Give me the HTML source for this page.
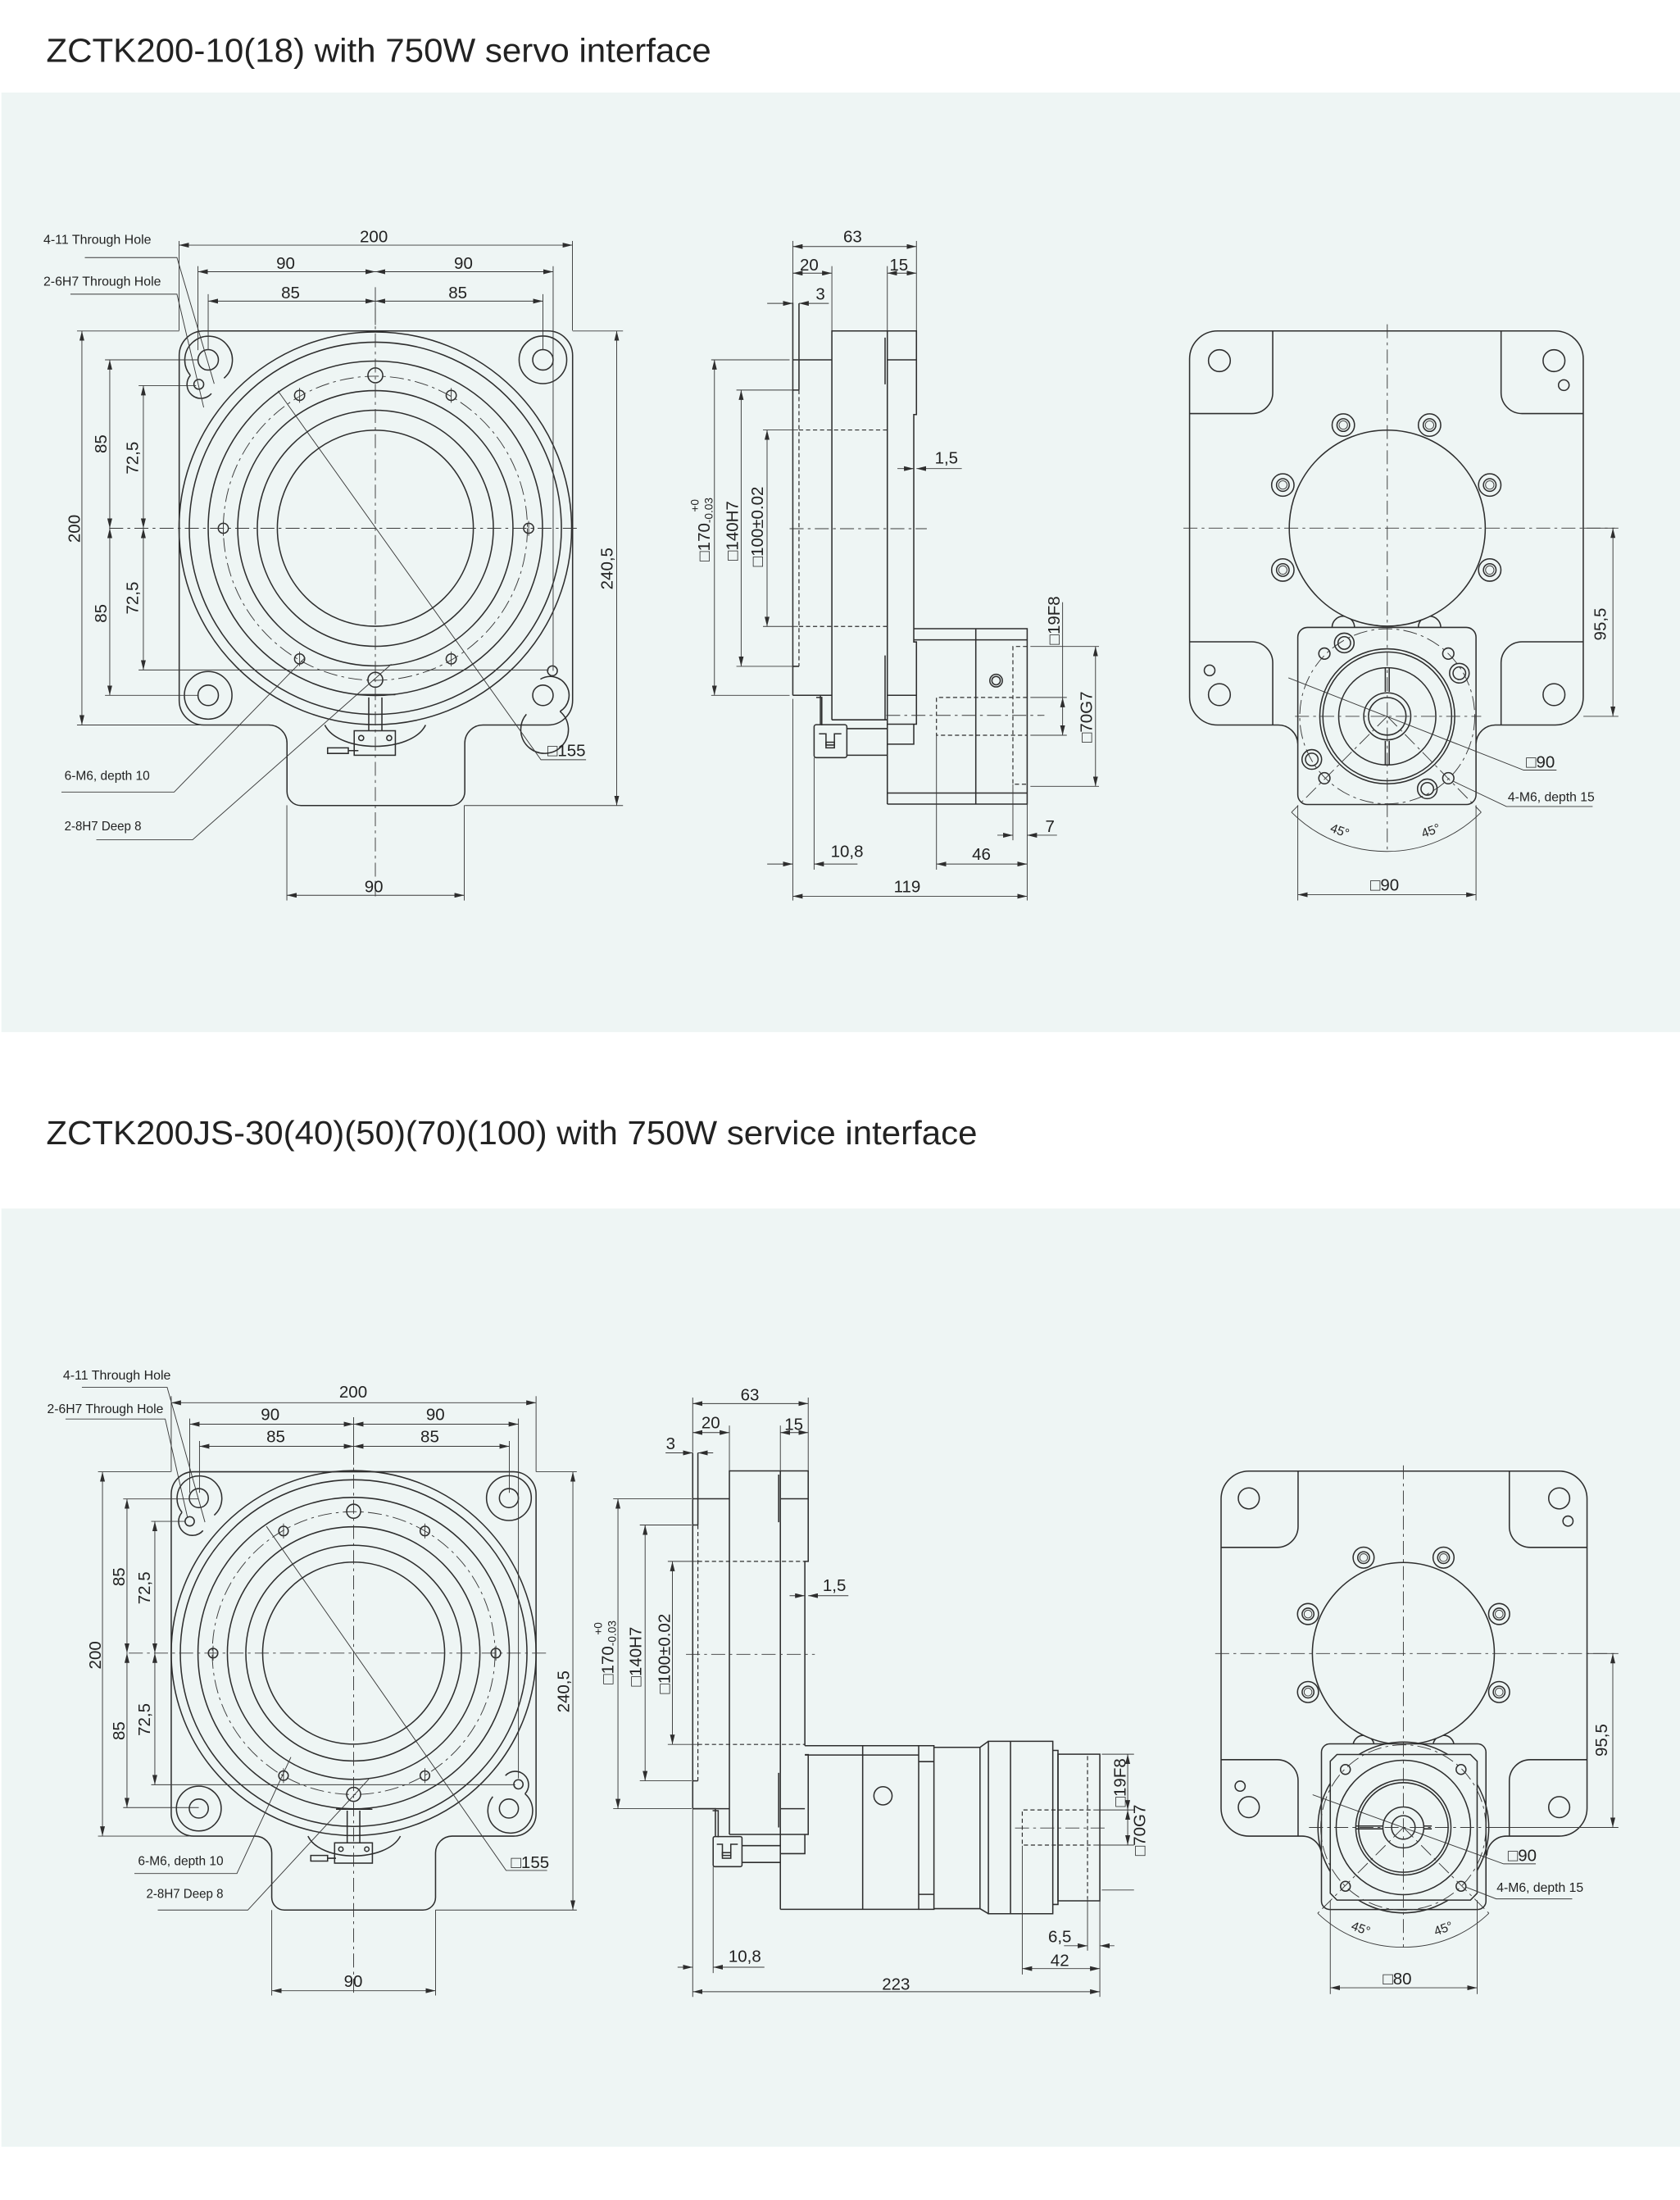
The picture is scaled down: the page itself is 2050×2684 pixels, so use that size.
<!DOCTYPE html>
<html><head><meta charset="utf-8"><style>
html,body{margin:0;padding:0;background:#fff;}
svg{display:block;}
.l{stroke:#2e2e2e;stroke-width:0.9;fill:none;}
.f{stroke:#2e2e2e;stroke-width:0.9;fill:#eef5f4;}
.t{stroke:#3a3a3a;stroke-width:0.55;fill:none;}
.dm{stroke:#3a3a3a;stroke-width:0.55;fill:none;marker-start:url(#a);marker-end:url(#a);}
.de{stroke:#3a3a3a;stroke-width:0.55;fill:none;marker-end:url(#a);}
.ds{stroke:#2e2e2e;stroke-width:0.7;fill:none;stroke-dasharray:3 2;}
.c{stroke:#3a3a3a;stroke-width:0.55;fill:none;stroke-dasharray:10 3 2 3;}
text{font-family:"Liberation Sans",sans-serif;fill:#222;}
.n{font-size:12px;}
.s{font-size:9px;}
</style></head><body>
<svg width="2050" height="2684" viewBox="0 0 1200 1571" xmlns="http://www.w3.org/2000/svg">
<defs>
<marker id="a" viewBox="0 0 8 4" refX="8" refY="2" markerWidth="7" markerHeight="3.5" markerUnits="userSpaceOnUse" orient="auto-start-reverse"><path d="M0,0 L8,2 L0,4 z" fill="#2e2e2e"/></marker>
</defs>
<rect width="1200" height="1571" fill="#fff"/>
<text x="33" y="44" font-size="24" textLength="475" lengthAdjust="spacingAndGlyphs">ZCTK200-10(18) with 750W servo interface</text>
<rect x="1" y="66" width="1199" height="671" fill="#eef5f4"/>
<text x="33" y="817" font-size="24" textLength="665" lengthAdjust="spacingAndGlyphs">ZCTK200JS-30(40)(50)(70)(100) with 750W service interface</text>
<rect x="1" y="863" width="1199" height="670" fill="#eef5f4"/>

<!-- ================= PANEL 1 LEFT VIEW ================= -->
<g>
<path class="l" d="M145.5,236.3 H391.5 A17.5,17.5 0 0 1 409,253.8 V500.2 A17.5,17.5 0 0 1 391.5,517.7 H345 A13,13 0 0 0 332,530.7 V565 A10,10 0 0 1 322,575.2 H215 A10,10 0 0 1 205,565 V530.7 A13,13 0 0 0 192,517.7 H145.5 A17.5,17.5 0 0 1 128,500.2 V253.8 A17.5,17.5 0 0 1 145.5,236.3 Z"/>
<path class="l" d="M232,517.7 C242,538 294,538 304,517.7"/>
<circle class="l" cx="268.1" cy="377.2" r="140.2"/>
<circle class="l" cx="268.1" cy="377.2" r="132.9"/>
<circle class="l" cx="268.1" cy="377.2" r="119.4"/>
<circle class="c" cx="268.1" cy="377.2" r="108.6"/>
<circle class="l" cx="268.1" cy="377.2" r="98.3"/>
<circle class="l" cx="268.1" cy="377.2" r="84.3"/>
<circle class="l" cx="268.1" cy="377.2" r="70"/>
<circle class="l" cx="268.1" cy="268" r="5.3"/><circle class="l" cx="268.1" cy="485.4" r="5.3"/>
<g class="l"><circle cx="214" cy="282.3" r="3.6"/><circle cx="322.3" cy="282.3" r="3.6"/><circle cx="159.5" cy="377.2" r="3.6"/><circle cx="377.6" cy="377.2" r="3.6"/><circle cx="214" cy="470.5" r="3.6"/><circle cx="322.3" cy="470.5" r="3.6"/></g>
<g class="t"><path d="M214,277 v10.6 M322.3,277 v10.6 M159.5,372 v10.6 M377.6,372 v10.6 M214,465.2 v10.6 M322.3,465.2 v10.6"/></g>
<g class="l"><circle cx="148.7" cy="256.9" r="7.3"/><circle cx="387.8" cy="256.9" r="7.3"/><circle cx="148.7" cy="496.5" r="7.3"/><circle cx="387.8" cy="496.5" r="7.3"/>
<circle cx="387.8" cy="256.9" r="17"/><circle cx="148.7" cy="496.5" r="17"/>
<path d="M136,268 A17,17 0 1 1 160,270 M136,268 A8,8 0 1 0 151,281"/>
<path d="M400,508 A17,17 0 1 1 376,510 M400,508 A8,8 0 0 0 386,485"/>
<circle cx="142" cy="274.4" r="3.5"/><circle cx="394.6" cy="479" r="3.5"/></g>
<line class="c" x1="268.1" y1="220" x2="268.1" y2="640"/>
<line class="c" x1="78" y1="377.2" x2="415" y2="377.2"/>
<line class="t" x1="268.1" y1="205" x2="268.1" y2="232"/>
<g class="l"><path d="M254.6,496 H282.4 M263.4,498 V521.8 M272.8,498 V521.8"/><rect x="253" y="521.8" width="29.4" height="17.5"/><circle cx="258" cy="527" r="1.8"/><circle cx="278" cy="527" r="1.8"/><path d="M234,534 H248.8 V538 H234 Z M248.8,536 H256"/></g>
<g class="t"><line x1="127.9" y1="172" x2="127.9" y2="236"/><line x1="408.9" y1="172" x2="408.9" y2="236"/>
<line x1="141.4" y1="190" x2="141.4" y2="250"/><line x1="395.1" y1="190" x2="395.1" y2="479"/>
<line x1="148.7" y1="210" x2="148.7" y2="250"/><line x1="387.8" y1="210" x2="387.8" y2="250"/>
<line x1="55" y1="236.3" x2="128" y2="236.3"/><line x1="55" y1="517.7" x2="192" y2="517.7"/>
<line x1="75" y1="256.9" x2="142" y2="256.9"/><line x1="75" y1="496.5" x2="142" y2="496.5"/>
<line x1="99" y1="275.3" x2="140" y2="275.3"/><line x1="99" y1="478.4" x2="392" y2="478.4"/>
<line x1="409" y1="236.3" x2="445" y2="236.3"/><line x1="332" y1="575.2" x2="445" y2="575.2"/>
<line x1="204.9" y1="575" x2="204.9" y2="643"/><line x1="331.6" y1="575" x2="331.6" y2="643"/></g>
<line class="dm" x1="127.9" y1="175" x2="408.9" y2="175"/>
<line class="dm" x1="141.4" y1="194" x2="268.1" y2="194"/><line class="dm" x1="268.1" y1="194" x2="395.1" y2="194"/>
<line class="dm" x1="148.7" y1="215" x2="268.1" y2="215"/><line class="dm" x1="268.1" y1="215" x2="387.8" y2="215"/>
<line class="dm" x1="58.5" y1="236.3" x2="58.5" y2="517.7"/>
<line class="dm" x1="78.4" y1="256.9" x2="78.4" y2="377.2"/><line class="dm" x1="78.4" y1="377.2" x2="78.4" y2="496.5"/>
<line class="dm" x1="102.4" y1="275.3" x2="102.4" y2="377.2"/><line class="dm" x1="102.4" y1="377.2" x2="102.4" y2="478.4"/>
<line class="dm" x1="440.5" y1="236.3" x2="440.5" y2="575.2"/>
<line class="dm" x1="204.9" y1="639.3" x2="331.6" y2="639.3"/>
<text class="n" x="267" y="173" text-anchor="middle">200</text>
<text class="n" x="204" y="192" text-anchor="middle">90</text><text class="n" x="331" y="192" text-anchor="middle">90</text>
<text class="n" x="207.5" y="213" text-anchor="middle">85</text><text class="n" x="327" y="213" text-anchor="middle">85</text>
<text class="n" x="267" y="637" text-anchor="middle">90</text>
<text class="n" transform="translate(57,377.5) rotate(-90)" text-anchor="middle">200</text>
<text class="n" transform="translate(76,317) rotate(-90)" text-anchor="middle">85</text>
<text class="n" transform="translate(76,438) rotate(-90)" text-anchor="middle">85</text>
<text class="n" transform="translate(98.5,327) rotate(-90)" text-anchor="middle">72,5</text>
<text class="n" transform="translate(98.5,427) rotate(-90)" text-anchor="middle">72,5</text>
<text class="n" transform="translate(437.5,406) rotate(-90)" text-anchor="middle">240,5</text>
<g class="t"><polyline points="60.6,183.9 126.4,183.9 153,274"/><polyline points="50.3,210 126.4,210 145.5,290.9"/>
<polyline points="43.9,565.6 124.4,565.6 218,469.5"/><polyline points="68.8,599.6 137.6,599.6 279.5,474.3"/>
<polyline points="198.5,279 386.4,542.5 418.6,542.5"/></g>
<text class="s" x="31" y="174" textLength="77" lengthAdjust="spacingAndGlyphs">4-11 Through Hole</text>
<text class="s" x="31" y="204" textLength="84" lengthAdjust="spacingAndGlyphs">2-6H7 Through Hole</text>
<text class="s" x="46" y="557" textLength="61" lengthAdjust="spacingAndGlyphs">6-M6, depth 10</text>
<text class="s" x="46" y="593" textLength="55" lengthAdjust="spacingAndGlyphs">2-8H7 Deep 8</text>
<text class="n" x="391" y="540">□155</text>
</g>

<!-- ================= PANEL 1 SIDE VIEW ================= -->
<g>
<line class="l" x1="566.3" y1="216" x2="566.3" y2="496.5"/>
<line class="l" x1="570.7" y1="216.6" x2="570.7" y2="278.5"/>
<line class="ds" x1="570.7" y1="278.5" x2="570.7" y2="475.8"/>
<path class="l" d="M566.3,278.5 H570.7 M566.3,475.8 H570.7 M566.3,256.9 H594.2 M566.3,496.5 H594.2"/>
<path class="l" d="M594.2,514 V236.3 H654.6 V296 H652.7 V458.4 H654.6 V517.1 H633.8 M633.8,236.3 V574.2 M633.8,256.9 H654.6 M633.8,496.5 H654.6 M633.8,531.4 H652.7 V517.1"/>
<path class="l" d="M632.2,241 V274.4 M632.2,468 V514"/>
<line class="ds" x1="570.7" y1="307" x2="633.8" y2="307"/><line class="ds" x1="570.7" y1="447.3" x2="633.8" y2="447.3"/>
<line class="c" x1="564" y1="377.5" x2="662" y2="377.5"/>
<path class="l" d="M594.2,514 H633.8 M604.9,520.3 H633.8 M604.9,539.3 H633.8"/>
<path class="l" d="M566.3,496.5 H586 V517.5 M583,498 H587 V518"/>
<g class="l"><rect x="581.5" y="517.5" width="23.4" height="23.5" rx="1.5"/><path d="M585,524 H590 V532 H596 V524 H601"/><rect x="590" y="530" width="6" height="4"/></g>
<path class="l" d="M652.7,448.9 H733.7 V574.2 H633.8 M652.7,456.9 H733.7 M697,448.9 V574.2 M633.8,566.3 H733.7"/>
<path class="ds" d="M733.7,461.6 H723.5 V560 H733.7 M733.7,498 H668.9 V525 H733.7"/>
<line class="c" x1="633" y1="510.8" x2="746" y2="510.8"/>
<circle class="l" cx="711.5" cy="486" r="4.5"/><circle class="l" cx="711.5" cy="486" r="3"/>
<g class="t"><line x1="566.3" y1="172" x2="566.3" y2="216"/><line x1="594.2" y1="190" x2="594.2" y2="236"/><line x1="633.8" y1="190" x2="633.8" y2="236"/><line x1="654.6" y1="172" x2="654.6" y2="236"/>
<line x1="508" y1="256.9" x2="564" y2="256.9"/><line x1="508" y1="496.5" x2="564" y2="496.5"/>
<line x1="526" y1="278.5" x2="566" y2="278.5"/><line x1="526" y1="475.8" x2="566" y2="475.8"/>
<line x1="545" y1="307" x2="570" y2="307"/><line x1="545" y1="447.3" x2="570" y2="447.3"/>
<line x1="566.3" y1="499" x2="566.3" y2="643"/><line x1="581.5" y1="541" x2="581.5" y2="621"/>
<line x1="668.9" y1="525" x2="668.9" y2="621"/><line x1="723.5" y1="560" x2="723.5" y2="600"/><line x1="733.7" y1="574" x2="733.7" y2="643"/>
<line x1="736" y1="498" x2="762" y2="498"/><line x1="736" y1="525" x2="762" y2="525"/>
<line x1="736" y1="461.6" x2="785" y2="461.6"/><line x1="736" y1="561.5" x2="785" y2="561.5"/>
<line x1="759" y1="430" x2="759" y2="498"/></g>
<line class="dm" x1="566.3" y1="176" x2="654.6" y2="176"/>
<line class="dm" x1="566.3" y1="195" x2="594.2" y2="195"/>
<line class="dm" x1="633.8" y1="195" x2="654.6" y2="195"/>
<line class="de" x1="548" y1="216.6" x2="566.3" y2="216.6"/><line class="de" x1="592" y1="216.6" x2="570.7" y2="216.6"/>
<line class="de" x1="641" y1="334.6" x2="652.7" y2="334.6"/><line class="de" x1="687" y1="334.6" x2="654.6" y2="334.6"/>
<line class="dm" x1="510.3" y1="256.9" x2="510.3" y2="496.5"/>
<line class="dm" x1="529.4" y1="278.5" x2="529.4" y2="475.8"/>
<line class="dm" x1="547.9" y1="307" x2="547.9" y2="447.3"/>
<line class="dm" x1="759" y1="498" x2="759" y2="525"/>
<line class="dm" x1="782.5" y1="461.6" x2="782.5" y2="561.5"/>
<line class="de" x1="712.4" y1="596.4" x2="723.5" y2="596.4"/><line class="de" x1="755" y1="596.4" x2="733.7" y2="596.4"/>
<line class="de" x1="548" y1="617" x2="566.3" y2="617"/><line class="de" x1="612.5" y1="617" x2="581.5" y2="617"/>
<line class="dm" x1="668.9" y1="617" x2="733.7" y2="617"/>
<line class="dm" x1="566.3" y1="640" x2="733.7" y2="640"/>
<text class="n" x="609" y="173" text-anchor="middle">63</text>
<text class="n" x="578" y="193" text-anchor="middle">20</text>
<text class="n" x="642" y="193" text-anchor="middle">15</text>
<text class="n" x="586" y="214" text-anchor="middle">3</text>
<text class="n" x="676" y="331" text-anchor="middle">1,5</text>
<text class="n" x="750" y="594" text-anchor="middle">7</text>
<text class="n" x="701" y="614" text-anchor="middle">46</text>
<text class="n" x="605" y="612" text-anchor="middle">10,8</text>
<text class="n" x="648" y="637" text-anchor="middle">119</text>
<text class="n" transform="translate(507,378) rotate(-90)" text-anchor="middle">□170<tspan font-size="8" dy="2">-0.03</tspan></text>
<text font-size="8" transform="translate(499,361) rotate(-90)" text-anchor="middle">+0</text>
<text class="n" transform="translate(527,379) rotate(-90)" text-anchor="middle">□140H7</text>
<text class="n" transform="translate(545,376) rotate(-90)" text-anchor="middle">□100±0.02</text>
<text class="n" transform="translate(757,443) rotate(-90)" text-anchor="middle">□19F8</text>
<text class="n" transform="translate(780,512) rotate(-90)" text-anchor="middle">□70G7</text>
</g>

<!-- ================= PANEL 1 RIGHT VIEW ================= -->
<g>
<path class="l" d="M869.7,236.3 H1110.9 A20,20 0 0 1 1130.9,256.3 V497.7 A20,20 0 0 1 1110.9,517.7 H1068 A14,14 0 0 0 1054.3,531 M927,531 A14,14 0 0 0 913,517.7 H869.7 A20,20 0 0 1 849.7,497.7 V256.3 A20,20 0 0 1 869.7,236.3"/>
<path class="l" d="M909.1,236.3 V280 A15,15 0 0 1 894,295.3 H849.7 M1072.2,236.3 V280 A15,15 0 0 0 1087.2,295.3 H1130.9 M849.7,458.3 H894 A15,15 0 0 1 909.1,473.3 V517.7 M1130.9,458.3 H1087.2 A15,15 0 0 0 1072.2,473.3 V517.7"/>
<g class="l"><circle cx="871" cy="257.5" r="7.8"/><circle cx="1110" cy="257.5" r="7.8"/><circle cx="1117" cy="275" r="3.8"/><circle cx="871" cy="496" r="7.8"/><circle cx="864" cy="478.7" r="3.8"/><circle cx="1110" cy="496" r="7.8"/></g>
<g class="f"><circle cx="959.5" cy="303.5" r="8"/><circle cx="1021.1" cy="303.5" r="8"/><circle cx="916.3" cy="346.3" r="8"/><circle cx="1064.1" cy="346.3" r="8"/><circle cx="916.3" cy="407" r="8"/><circle cx="1064.1" cy="407" r="8"/><circle cx="959.5" cy="448" r="8"/><circle cx="1021.1" cy="448" r="8"/></g>
<circle class="f" cx="990.9" cy="377.1" r="70"/>
<g class="l"><circle cx="959.5" cy="303.5" r="4.5"/><circle cx="1021.1" cy="303.5" r="4.5"/><circle cx="916.3" cy="346.3" r="4.5"/><circle cx="1064.1" cy="346.3" r="4.5"/><circle cx="916.3" cy="407" r="4.5"/><circle cx="1064.1" cy="407" r="4.5"/></g>
<g class="t"><circle cx="959.5" cy="303.5" r="3"/><circle cx="1021.1" cy="303.5" r="3"/><circle cx="916.3" cy="346.3" r="3"/><circle cx="1064.1" cy="346.3" r="3"/><circle cx="916.3" cy="407" r="3"/><circle cx="1064.1" cy="407" r="3"/></g>
<rect class="f" x="927" y="448" width="127.3" height="126.5" rx="7"/>
<circle class="c" cx="990.9" cy="511.5" r="62.5"/>
<circle class="l" cx="990.9" cy="511.5" r="48.2"/><circle class="l" cx="990.9" cy="511.5" r="46"/>
<circle class="l" cx="990.9" cy="511.5" r="34.7"/><circle class="l" cx="990.9" cy="511.5" r="16.8"/><circle class="l" cx="990.9" cy="511.5" r="13.4"/>
<path class="l" d="M989.5,477 V494 M992.3,477 V494 M989.5,529 V546 M992.3,529 V546"/>
<g class="l"><circle cx="946" cy="466.7" r="4"/><circle cx="1034.5" cy="466.7" r="4"/><circle cx="946" cy="555.7" r="4"/><circle cx="1034.5" cy="555.7" r="4"/>
<circle cx="960.2" cy="459.1" r="7"/><circle cx="960.2" cy="459.1" r="4.5"/><circle cx="1042.4" cy="480.7" r="7"/><circle cx="1042.4" cy="480.7" r="4.5"/><circle cx="937" cy="542.3" r="7"/><circle cx="937" cy="542.3" r="4.5"/><circle cx="1019.5" cy="563.3" r="7"/><circle cx="1019.5" cy="563.3" r="4.5"/></g>
<line class="c" x1="990.9" y1="231.5" x2="990.9" y2="608"/>
<line class="c" x1="845.3" y1="377.1" x2="1153.3" y2="377.1"/>
<line class="c" x1="925" y1="511.5" x2="1058" y2="511.5"/>
<path class="c" d="M990.9,511.5 L922.5,580 M990.9,511.5 L1058,580"/>
<path class="t" d="M922.5,580 A96,96 0 0 0 990.9,608 A96,96 0 0 0 1058,580"/>
<g class="t"><polyline points="920.3,484 1088.3,549.9 1111.8,549.9"/><polyline points="1037.9,557.8 1076,575.9 1137.6,575.9"/>
<line x1="1131" y1="377.1" x2="1156" y2="377.1"/><line x1="1131" y1="511.5" x2="1156" y2="511.5"/>
<line x1="927" y1="575" x2="927" y2="643"/><line x1="1054.3" y1="575" x2="1054.3" y2="643"/></g>
<line class="dm" x1="1152.1" y1="377.1" x2="1152.1" y2="511.5"/>
<line class="dm" x1="927" y1="638.9" x2="1054.3" y2="638.9"/>
<text class="n" transform="translate(1147,445.7) rotate(-90)" text-anchor="middle">95,5</text>
<text class="n" x="1090" y="548">□90</text>
<text class="s" x="1077" y="572" textLength="62" lengthAdjust="spacingAndGlyphs">4-M6, depth 15</text>
<text class="s" transform="translate(956,596) rotate(20)" text-anchor="middle">45°</text>
<text class="s" transform="translate(1023,596) rotate(-20)" text-anchor="middle">45°</text>
<text class="n" x="989" y="636" text-anchor="middle">□90</text>
</g>

<!-- ================= PANEL 2 LEFT VIEW ================= -->
<g>
<path class="l" d="M138.3,1051 H366.9 A16,16 0 0 1 382.9,1067 V1295.2 A16,16 0 0 1 366.9,1311.2 H323 A12,12 0 0 0 311.1,1323.2 V1355 A9,9 0 0 1 302.1,1364 H203.1 A9,9 0 0 1 194.1,1355 V1323.2 A12,12 0 0 0 182.1,1311.2 H138.3 A16,16 0 0 1 122.3,1295.2 V1067 A16,16 0 0 1 138.3,1051 Z"/>
<path class="l" d="M220,1311.2 C229,1330 276,1330 286,1311.2"/>
<circle class="l" cx="252.6" cy="1180.5" r="130.3"/>
<circle class="l" cx="252.6" cy="1180.5" r="123.8"/>
<circle class="l" cx="252.6" cy="1180.5" r="111.2"/>
<circle class="c" cx="252.6" cy="1180.5" r="101"/>
<circle class="l" cx="252.6" cy="1180.5" r="90.2"/>
<circle class="l" cx="252.6" cy="1180.5" r="77"/>
<circle class="l" cx="252.6" cy="1180.5" r="65"/>
<circle class="l" cx="252.6" cy="1079.2" r="5"/><circle class="l" cx="252.6" cy="1281.4" r="5"/>
<g class="l"><circle cx="202.5" cy="1093.3" r="3.4"/><circle cx="303.5" cy="1093.3" r="3.4"/><circle cx="152.2" cy="1180.5" r="3.4"/><circle cx="354.2" cy="1180.5" r="3.4"/><circle cx="202.5" cy="1268" r="3.4"/><circle cx="303.5" cy="1268" r="3.4"/></g>
<g class="t"><path d="M202.5,1088 v10.6 M303.5,1088 v10.6 M152.2,1175.2 v10.6 M354.2,1175.2 v10.6 M202.5,1262.7 v10.6 M303.5,1262.7 v10.6"/></g>
<g class="l"><circle cx="142" cy="1069.8" r="6.8"/><circle cx="363.5" cy="1069.8" r="6.8"/><circle cx="142" cy="1291.5" r="6.8"/><circle cx="363.5" cy="1291.5" r="6.8"/>
<circle cx="363.5" cy="1069.8" r="16"/><circle cx="142" cy="1291.5" r="16"/>
<path d="M130,1080 A16,16 0 1 1 153,1082 M130,1080 A7.5,7.5 0 1 0 145,1093"/>
<path d="M375,1281 A16,16 0 1 1 352,1283 M375,1281 A7.5,7.5 0 0 0 361,1268"/>
<circle cx="135.5" cy="1086.4" r="3.3"/><circle cx="370.3" cy="1274.2" r="3.3"/></g>
<line class="c" x1="252.6" y1="1035" x2="252.6" y2="1425"/>
<line class="c" x1="92" y1="1180.5" x2="390" y2="1180.5"/>
<line class="t" x1="252.6" y1="1012" x2="252.6" y2="1046"/>
<g class="l"><path d="M240,1292 H266 M248,1293 V1316 M257,1293 V1316"/><rect x="239" y="1316" width="27" height="14.5"/><circle cx="243.5" cy="1320.5" r="1.6"/><circle cx="262" cy="1320.5" r="1.6"/><path d="M222,1325 H234 V1329 H222 Z M234,1327 H240"/></g>
<g class="t"><line x1="122.3" y1="997" x2="122.3" y2="1051"/><line x1="382.9" y1="997" x2="382.9" y2="1051"/>
<line x1="135.5" y1="1013" x2="135.5" y2="1066"/><line x1="370.3" y1="1013" x2="370.3" y2="1270"/>
<line x1="142.5" y1="1029" x2="142.5" y2="1066"/><line x1="363.8" y1="1029" x2="363.8" y2="1066"/>
<line x1="70" y1="1051" x2="122" y2="1051"/><line x1="70" y1="1311.2" x2="182" y2="1311.2"/>
<line x1="88" y1="1070.4" x2="142" y2="1070.4"/><line x1="88" y1="1290.8" x2="142" y2="1290.8"/>
<line x1="108" y1="1086.4" x2="132" y2="1086.4"/><line x1="108" y1="1274.5" x2="368" y2="1274.5"/>
<line x1="383" y1="1051" x2="412" y2="1051"/><line x1="311" y1="1364" x2="412" y2="1364"/>
<line x1="194.1" y1="1364" x2="194.1" y2="1425"/><line x1="311.1" y1="1364" x2="311.1" y2="1425"/></g>
<line class="dm" x1="122.3" y1="1001.7" x2="382.9" y2="1001.7"/>
<line class="dm" x1="135.5" y1="1017" x2="252.6" y2="1017"/><line class="dm" x1="252.6" y1="1017" x2="370.3" y2="1017"/>
<line class="dm" x1="142.5" y1="1032.8" x2="252.6" y2="1032.8"/><line class="dm" x1="252.6" y1="1032.8" x2="363.8" y2="1032.8"/>
<line class="dm" x1="73.2" y1="1051" x2="73.2" y2="1311.2"/>
<line class="dm" x1="90.7" y1="1070.4" x2="90.7" y2="1180.5"/><line class="dm" x1="90.7" y1="1180.5" x2="90.7" y2="1290.8"/>
<line class="dm" x1="110.6" y1="1086.4" x2="110.6" y2="1180.5"/><line class="dm" x1="110.6" y1="1180.5" x2="110.6" y2="1274.5"/>
<line class="dm" x1="409.2" y1="1051" x2="409.2" y2="1364"/>
<line class="dm" x1="194.1" y1="1421.6" x2="311.1" y2="1421.6"/>
<text class="n" x="252.3" y="998" text-anchor="middle">200</text>
<text class="n" x="193" y="1014" text-anchor="middle">90</text><text class="n" x="311" y="1014" text-anchor="middle">90</text>
<text class="n" x="197" y="1030" text-anchor="middle">85</text><text class="n" x="307" y="1030" text-anchor="middle">85</text>
<text class="n" x="252.3" y="1419" text-anchor="middle">90</text>
<text class="n" transform="translate(72,1182) rotate(-90)" text-anchor="middle">200</text>
<text class="n" transform="translate(89,1126) rotate(-90)" text-anchor="middle">85</text>
<text class="n" transform="translate(89,1236) rotate(-90)" text-anchor="middle">85</text>
<text class="n" transform="translate(107,1134) rotate(-90)" text-anchor="middle">72,5</text>
<text class="n" transform="translate(107,1228) rotate(-90)" text-anchor="middle">72,5</text>
<text class="n" transform="translate(406.5,1208) rotate(-90)" text-anchor="middle">240,5</text>
<g class="t"><polyline points="58.5,990.7 119.4,990.7 146.4,1087"/><polyline points="46.8,1013.3 118,1013.3 134,1083.9"/>
<polyline points="96,1337.9 169.2,1337.9 207.8,1254.8"/><polyline points="112.7,1364 177,1364 263.4,1270.5"/>
<polyline points="190.3,1090 361.5,1335.7 390.8,1335.7"/></g>
<text class="s" x="45" y="985" textLength="77" lengthAdjust="spacingAndGlyphs">4-11 Through Hole</text>
<text class="s" x="33.7" y="1009" textLength="83" lengthAdjust="spacingAndGlyphs">2-6H7 Through Hole</text>
<text class="s" x="98.6" y="1332" textLength="61" lengthAdjust="spacingAndGlyphs">6-M6, depth 10</text>
<text class="s" x="104.5" y="1355.5" textLength="55" lengthAdjust="spacingAndGlyphs">2-8H7 Deep 8</text>
<text class="n" x="365" y="1334">□155</text>
</g>

<!-- ================= PANEL 2 SIDE VIEW ================= -->
<g>
<line class="l" x1="494.8" y1="1037.5" x2="494.8" y2="1291.6"/>
<line class="l" x1="498.5" y1="1037.5" x2="498.5" y2="1089"/>
<line class="ds" x1="498.5" y1="1089" x2="498.5" y2="1271.7"/>
<path class="l" d="M494.8,1089 H498.5 M494.8,1271.7 H498.5 M494.8,1070.3 H521 M494.8,1291.6 H521"/>
<path class="l" d="M521,1310 V1050.4 H577.3 V1115 H574.9 V1246.6 M574.9,1253 H577.3 V1310 H557.4 M557.4,1050.4 V1363.5 M557.4,1070.3 H577.3 M557.4,1291.6 H574.9 M557.4,1323.7 H574.9 V1310"/>
<path class="l" d="M556.2,1053 V1087 M556.2,1266 V1305"/>
<line class="ds" x1="498.5" y1="1115" x2="574.9" y2="1115"/><line class="ds" x1="498.5" y1="1245.7" x2="574.9" y2="1245.7"/>
<line class="c" x1="490" y1="1181.4" x2="582" y2="1181.4"/>
<path class="l" d="M521,1310 H557.4 M530,1318 H557.4 M530,1330 H557.4 M494.8,1291.6 H511 V1311.5 M509,1293 H513 V1312"/>
<g class="l"><rect x="509.4" y="1311.5" width="20.6" height="21.5" rx="1.2"/><path d="M512,1317 H516 V1325 H522 V1317 H527"/><rect x="516" y="1323" width="6" height="4"/></g>
<path class="l" d="M574.9,1246.6 H656.2 V1363.5 H557.4 M574.9,1253.3 H656.2 M616.2,1246.6 V1363.5"/>
<circle class="l" cx="630.7" cy="1282.4" r="6.5"/>
<path class="l" d="M656.2,1246.6 H667.1 V1363.5 H656.2 M656.2,1258 H667.1 M656.2,1352.8 H667.1"/>
<path class="l" d="M667.1,1247.8 H700 V1363 H667.1 M700,1247.8 L706,1243.5 M700,1363 L706,1366.6"/>
<path class="l" d="M706,1243.5 H752 V1366.6 H706 Z M721.8,1243.5 V1366.6"/>
<path class="l" d="M752,1250 H755.7 V1360 H752"/>
<path class="l" d="M755.7,1252.7 H785.6 V1357.4 H755.7 Z"/>
<line class="ds" x1="776.8" y1="1254" x2="776.8" y2="1356"/>
<path class="ds" d="M779,1292.5 H730.2 V1317.6 H779"/>
<line class="c" x1="725" y1="1305.4" x2="792" y2="1305.4"/>
<g class="t"><line x1="494.8" y1="998" x2="494.8" y2="1037"/><line x1="521" y1="1018" x2="521" y2="1050"/><line x1="557.4" y1="1018" x2="557.4" y2="1050"/><line x1="577.3" y1="998" x2="577.3" y2="1050"/>
<line x1="438" y1="1070.3" x2="494" y2="1070.3"/><line x1="438" y1="1291.6" x2="494" y2="1291.6"/>
<line x1="457" y1="1089" x2="494" y2="1089"/><line x1="457" y1="1271.7" x2="494" y2="1271.7"/>
<line x1="477" y1="1115" x2="498" y2="1115"/><line x1="477" y1="1245.7" x2="498" y2="1245.7"/>
<line x1="494.8" y1="1292" x2="494.8" y2="1426"/><line x1="509.4" y1="1333" x2="509.4" y2="1409"/>
<line x1="730.2" y1="1318" x2="730.2" y2="1410"/><line x1="776.8" y1="1356" x2="776.8" y2="1393"/><line x1="785.6" y1="1357" x2="785.6" y2="1426"/>
<line x1="787" y1="1252.7" x2="810" y2="1252.7"/><line x1="781" y1="1292.5" x2="810" y2="1292.5"/><line x1="781" y1="1317.6" x2="810" y2="1317.6"/><line x1="787" y1="1349.7" x2="810" y2="1349.7"/></g>
<line class="dm" x1="494.8" y1="1002.3" x2="577.3" y2="1002.3"/>
<line class="dm" x1="494.8" y1="1023" x2="521" y2="1023"/>
<line class="dm" x1="557.4" y1="1023" x2="577.3" y2="1023"/>
<line class="de" x1="475.4" y1="1037.5" x2="494.8" y2="1037.5"/><line class="de" x1="509.4" y1="1037.5" x2="498.5" y2="1037.5"/>
<line class="de" x1="564" y1="1139.5" x2="574.9" y2="1139.5"/><line class="de" x1="606" y1="1139.5" x2="577.3" y2="1139.5"/>
<line class="dm" x1="441.4" y1="1070.3" x2="441.4" y2="1291.6"/>
<line class="dm" x1="460.8" y1="1089" x2="460.8" y2="1271.7"/>
<line class="dm" x1="480.3" y1="1115" x2="480.3" y2="1245.7"/>
<line class="dm" x1="805.5" y1="1252.7" x2="805.5" y2="1292.5"/>
<line class="dm" x1="805.5" y1="1292.5" x2="805.5" y2="1317.6"/>
<line class="de" x1="760" y1="1389.5" x2="776.8" y2="1389.5"/><line class="de" x1="796" y1="1389.5" x2="785.6" y2="1389.5"/>
<line class="dm" x1="730.2" y1="1405.8" x2="785.6" y2="1405.8"/>
<line class="de" x1="484" y1="1404.8" x2="494.8" y2="1404.8"/><line class="de" x1="546" y1="1404.8" x2="509.4" y2="1404.8"/>
<line class="dm" x1="494.8" y1="1422.3" x2="785.6" y2="1422.3"/>
<text class="n" x="535.6" y="1000" text-anchor="middle">63</text>
<text class="n" x="507.7" y="1020" text-anchor="middle">20</text>
<text class="n" x="567" y="1021" text-anchor="middle">15</text>
<text class="n" x="479" y="1035" text-anchor="middle">3</text>
<text class="n" x="596" y="1136" text-anchor="middle">1,5</text>
<text class="n" x="757" y="1387" text-anchor="middle">6,5</text>
<text class="n" x="757" y="1404" text-anchor="middle">42</text>
<text class="n" x="532" y="1401" text-anchor="middle">10,8</text>
<text class="n" x="640" y="1421" text-anchor="middle">223</text>
<text class="n" transform="translate(438,1180) rotate(-90)" text-anchor="middle">□170<tspan font-size="8" dy="2">-0.03</tspan></text>
<text font-size="8" transform="translate(430,1163) rotate(-90)" text-anchor="middle">+0</text>
<text class="n" transform="translate(458,1183) rotate(-90)" text-anchor="middle">□140H7</text>
<text class="n" transform="translate(478.5,1181) rotate(-90)" text-anchor="middle">□100±0.02</text>
<text class="n" transform="translate(804,1273) rotate(-90)" text-anchor="middle">□19F8</text>
<text class="n" transform="translate(818,1307) rotate(-90)" text-anchor="middle">□70G7</text>
</g>

<!-- ================= PANEL 2 RIGHT VIEW ================= -->
<g>
<path class="l" d="M892.2,1050.5 H1113.6 A20,20 0 0 1 1133.6,1070.5 V1291.2 A20,20 0 0 1 1113.6,1311.2 H1076 A14,14 0 0 0 1062,1325 M944,1325 A14,14 0 0 0 930,1311.2 H892.2 A20,20 0 0 1 872.2,1291.2 V1070.5 A20,20 0 0 1 892.2,1050.5"/>
<path class="l" d="M927.2,1050.5 V1090 A15,15 0 0 1 912.2,1105 H872.2 M1078.1,1050.5 V1090 A15,15 0 0 0 1093.1,1105 H1133.6 M872.2,1256.6 H912.2 A15,15 0 0 1 927.2,1271.6 V1311.2 M1133.6,1256.6 H1093.1 A15,15 0 0 0 1078.1,1271.6 V1311.2"/>
<g class="l"><circle cx="892" cy="1070" r="7.5"/><circle cx="1113.7" cy="1070" r="7.5"/><circle cx="1120" cy="1086.2" r="3.6"/><circle cx="892" cy="1290.5" r="7.5"/><circle cx="885.8" cy="1275.5" r="3.6"/><circle cx="1113.7" cy="1290.5" r="7.5"/></g>
<g class="f"><circle cx="974" cy="1112.3" r="7.5"/><circle cx="1031.1" cy="1112.3" r="7.5"/><circle cx="934.3" cy="1152.6" r="7.5"/><circle cx="1070.8" cy="1152.6" r="7.5"/><circle cx="934.3" cy="1208.3" r="7.5"/><circle cx="1070.8" cy="1208.3" r="7.5"/><circle cx="974" cy="1246.7" r="7.5"/><circle cx="1031.1" cy="1246.7" r="7.5"/></g>
<circle class="f" cx="1002.4" cy="1180.8" r="65"/>
<g class="l"><circle cx="974" cy="1112.3" r="4.2"/><circle cx="1031.1" cy="1112.3" r="4.2"/><circle cx="934.3" cy="1152.6" r="4.2"/><circle cx="1070.8" cy="1152.6" r="4.2"/><circle cx="934.3" cy="1208.3" r="4.2"/><circle cx="1070.8" cy="1208.3" r="4.2"/></g>
<g class="t"><circle cx="974" cy="1112.3" r="2.8"/><circle cx="1031.1" cy="1112.3" r="2.8"/><circle cx="934.3" cy="1152.6" r="2.8"/><circle cx="1070.8" cy="1152.6" r="2.8"/><circle cx="934.3" cy="1208.3" r="2.8"/><circle cx="1070.8" cy="1208.3" r="2.8"/></g>
<rect class="f" x="943.9" y="1245.3" width="117.5" height="118.3" rx="6"/>
<circle class="l" cx="1002.4" cy="1305" r="61"/>
<path class="f" d="M955,1252.9 H1050.3 L1055.1,1257.7 V1352 L1050.3,1356.9 H955 L950.2,1352 V1257.7 Z"/>
<circle class="c" cx="1002.4" cy="1305" r="59"/>
<circle class="l" cx="1002.4" cy="1305" r="48"/><circle class="l" cx="1002.4" cy="1305" r="34"/><circle class="l" cx="1002.4" cy="1305" r="32"/>
<circle class="l" cx="1002.4" cy="1305" r="14.6"/><circle class="l" cx="1002.4" cy="1305" r="8.4"/>
<path class="l" d="M968.4,1304 H987.8 M968.4,1306 H987.8 M1017,1304 H1022.7 M1017,1306 H1022.7"/>
<g class="l"><circle cx="961" cy="1263.6" r="3.5"/><circle cx="1043.6" cy="1263.6" r="3.5"/><circle cx="961" cy="1347" r="3.5"/><circle cx="1043.6" cy="1347" r="3.5"/></g>
<line class="c" x1="1002.4" y1="1046.4" x2="1002.4" y2="1390.5"/>
<line class="c" x1="868" y1="1180.8" x2="1154.5" y2="1180.8"/>
<line class="c" x1="935" y1="1305" x2="1070" y2="1305"/>
<path class="c" d="M1002.4,1305 L941.2,1366.3 M1002.4,1305 L1063.5,1366.3"/>
<path class="t" d="M941.2,1366.3 A87,87 0 0 0 1002.4,1390.5 A87,87 0 0 0 1063.5,1366.3"/>
<g class="t"><polyline points="937.6,1281.6 1074,1331 1097,1331"/><polyline points="1046.8,1347.5 1068.7,1356 1123,1356"/>
<line x1="1134" y1="1180.8" x2="1156" y2="1180.8"/><line x1="1062" y1="1305" x2="1156" y2="1305"/>
<line x1="950.2" y1="1357" x2="950.2" y2="1424"/><line x1="1055.1" y1="1357" x2="1055.1" y2="1424"/></g>
<line class="dm" x1="1152" y1="1180.8" x2="1152" y2="1305"/>
<line class="dm" x1="950.2" y1="1419.5" x2="1055.1" y2="1419.5"/>
<text class="n" transform="translate(1148,1242.7) rotate(-90)" text-anchor="middle">95,5</text>
<text class="n" x="1077" y="1329">□90</text>
<text class="s" x="1069" y="1351" textLength="62" lengthAdjust="spacingAndGlyphs">4-M6, depth 15</text>
<text class="s" transform="translate(971,1380) rotate(20)" text-anchor="middle">45°</text>
<text class="s" transform="translate(1032,1380) rotate(-20)" text-anchor="middle">45°</text>
<text class="n" x="998" y="1417" text-anchor="middle">□80</text>
</g>
</svg>
</body></html>
